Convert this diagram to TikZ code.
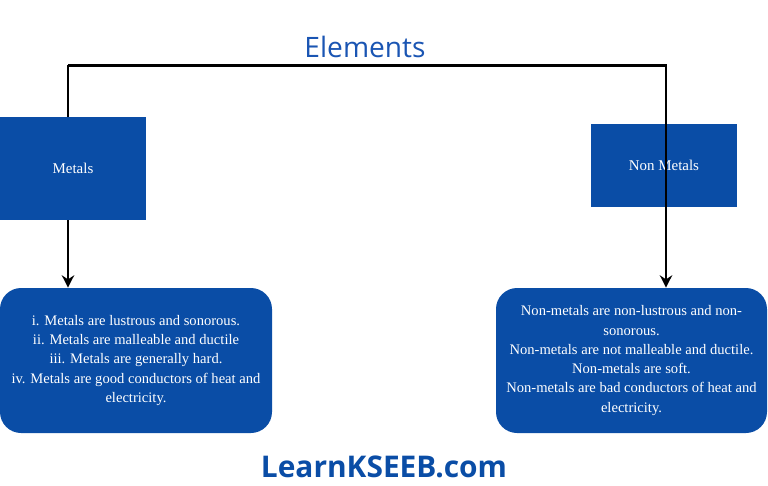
\documentclass[tikz,border=0pt]{standalone}
\usepackage{fontspec}
\setmainfont{Liberation Serif}
\setsansfont{Open Sans}
\usetikzlibrary{arrows.meta}
\definecolor{KseebBlue}{HTML}{0A4DA6}
\definecolor{TitleBlue}{HTML}{1A55B3}
\tikzset{
  head/.style={fill=KseebBlue, text=white, font=\fontsize{8.5}{10}\selectfont},
  info/.style={fill=KseebBlue, text=white, rounded corners=12pt, align=center,
    font=\fontsize{8.3}{11}\selectfont, inner sep=0pt},
  link/.style={line width=1.7pt, -{Stealth[length=7pt,width=7pt]}}
}
\begin{document}
\begin{tikzpicture}[x=0.02cm, y=-0.02cm]
  \useasboundingbox (0,0) rectangle (768,485);
  % Title
  \node[font=\sffamily\fontsize{16}{18}\selectfont, text=TitleBlue] (elements) at (365,47) {Elements};
  \coordinate (tl) at (68,65);
  \coordinate (tr) at (666,65);
  % Info boxes
  \node[info, minimum width=272*0.02cm, minimum height=145*0.02cm] (metalsinfo) at (136,360.5)
    {i. Metals are lustrous and sonorous.\\ ii. Metals are malleable and ductile\\
     iii. Metals are generally hard.\\ iv. Metals are good conductors of heat and\\ electricity.};
  \node[info, minimum width=271*0.02cm, minimum height=145*0.02cm] (nonmetalsinfo) at (631.5,360.5)
    {Non-metals are non-lustrous and non-\\ sonorous.\\ Non-metals are not malleable and ductile.\\
     Non-metals are soft.\\ Non-metals are bad conductors of heat and\\ electricity.};
  % Non Metals box lies under the line
  \node[head, minimum width=146*0.02cm, minimum height=83*0.02cm] (nonmetals) at (664,165.5) {Non Metals};
  % Connectors
  \draw[link] (tl) -- (metalsinfo.north -| tl);
  \draw[link] (tl) -- (tr) -- (nonmetalsinfo.north -| tr);
  % Metals box lies over the line
  \node[head, minimum width=146*0.02cm, minimum height=103*0.02cm] (metals) at (73,168.5) {Metals};
  % Footer
  \node[font=\sffamily\bfseries\fontsize{17}{20}\selectfont, text=KseebBlue] (site) at (384,467) {LearnKSEEB.com};
\end{tikzpicture}
\end{document}
